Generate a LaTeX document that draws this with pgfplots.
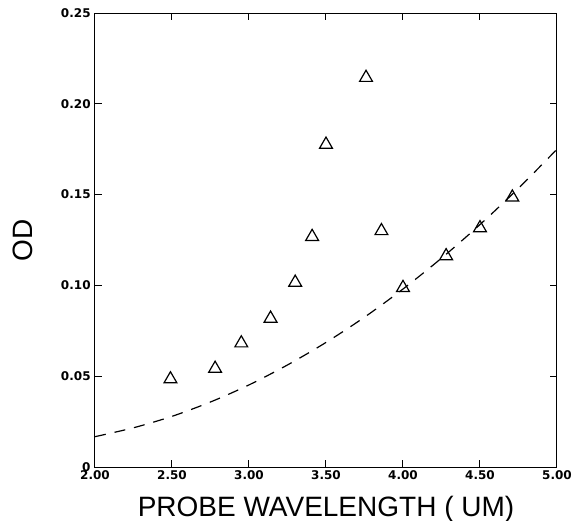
\documentclass[border=0pt]{standalone}
\usepackage{pgfplots}
\pgfplotsset{compat=1.18}
\usepackage{fontspec}
\setmainfont{Liberation Sans}
\newfontfamily\tickfont{DejaVu Sans}

% measured OD values (triangles)
\pgfplotstableread{
x     y
2.49  0.0484
2.78  0.0542
2.95  0.0682
3.14  0.0818
3.30  0.1016
3.41  0.1268
3.50  0.1776
3.76  0.2144
3.86  0.1300
4.00  0.0987
4.28  0.1162
4.50  0.1316
4.71  0.1485
}\measured

% dashed reference curve
\pgfplotstableread{
x     y
2.00  0.0167
2.25  0.0216
2.50  0.0279
2.75  0.0358
3.00  0.0452
3.25  0.0562
3.50  0.0686
3.75  0.0825
4.00  0.0980
4.25  0.1150
4.50  0.1335
4.75  0.1535
5.00  0.1750
}\fitcurve

\begin{document}
\begin{tikzpicture}
  \fill[white] (-47.5pt,-26.5pt) rectangle (239pt,233.5pt);
  \useasboundingbox (-47.5pt,-26.5pt) rectangle (239pt,233.5pt);
  \begin{axis}[
    anchor=origin, at={(0,0)},
    scale only axis,
    width=231pt, height=227pt,
    xmin=2, xmax=5, ymin=0, ymax=0.25,
    axis line style={line width=0.5pt},
    tick align=inside,
    major tick length=3.5pt,
    tick style={line width=0.5pt, black},
    xtick={2,2.5,3,3.5,4,4.5,5},
    xticklabels={2.00,2.50,3.00,3.50,4.00,4.50,5.00},
    ytick={0,0.05,0.10,0.15,0.20,0.25},
    yticklabels={0,0.05,0.10,0.15,0.20,0.25},
    ticklabel style={font=\tickfont\bfseries\fontsize{6pt}{7pt}\selectfont},
    xticklabel style={inner sep=1.5pt},
    yticklabel style={inner sep=2pt},
    xlabel={PROBE WAVELENGTH ( UM)},
    ylabel={OD},
    label style={font=\fontsize{14pt}{16pt}\selectfont},
    xlabel style={at={(axis description cs:0.5,-0.110)}, anchor=base},
    ylabel style={at={(axis description cs:-0.156,0.5)}, anchor=center},
  ]
    \addplot[only marks, mark=triangle, mark size=3.7pt,
             mark options={line width=0.6pt, fill=none}]
      table[x=x, y=y] {\measured};
    \addplot[black, line width=0.6pt, dash pattern=on 5.5pt off 4.5pt, smooth]
      table[x=x, y=y] {\fitcurve};
  \end{axis}
\end{tikzpicture}
\end{document}
